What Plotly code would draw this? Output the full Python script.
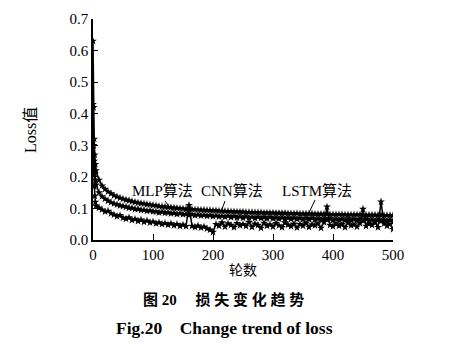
import plotly.graph_objects as go

epochs = [0, 1, 2, 3, 4] + list(range(5, 501, 5))

mlp_loss = [
    0.63, 0.42, 0.32, 0.27, 0.24,
    0.22, 0.19, 0.172, 0.161, 0.153, 0.147, 0.141, 0.137, 0.133, 0.130,
    0.127, 0.125, 0.122, 0.120, 0.118, 0.116, 0.115, 0.113, 0.112, 0.110,
    0.109, 0.107, 0.106, 0.105, 0.104, 0.103, 0.102, 0.101, 0.100, 0.099,
    0.098, 0.098, 0.097, 0.096, 0.096, 0.095, 0.095, 0.094, 0.094, 0.093,
    0.093, 0.092, 0.092, 0.091, 0.091, 0.090, 0.090, 0.089, 0.089, 0.089,
    0.088, 0.088, 0.088, 0.087, 0.087, 0.087, 0.086, 0.086, 0.086, 0.086,
    0.085, 0.085, 0.085, 0.085, 0.084, 0.084, 0.084, 0.084, 0.083, 0.083,
    0.083, 0.083, 0.083, 0.082, 0.082, 0.082, 0.082, 0.082, 0.081, 0.081,
    0.081, 0.081, 0.081, 0.080, 0.080, 0.080, 0.080, 0.080, 0.080, 0.079,
    0.079, 0.079, 0.079, 0.079, 0.079, 0.078, 0.078, 0.078, 0.078, 0.078,
]

cnn_loss = [
    0.43, 0.30, 0.25, 0.21, 0.19,
    0.175, 0.150, 0.138, 0.130, 0.124, 0.119, 0.115, 0.112, 0.109, 0.107,
    0.105, 0.102, 0.101, 0.098, 0.098, 0.095, 0.095, 0.092, 0.093, 0.090,
    0.090, 0.087, 0.089, 0.086, 0.087, 0.084, 0.085, 0.082, 0.084, 0.081,
    0.082, 0.079, 0.081, 0.078, 0.080, 0.077, 0.079, 0.076, 0.078, 0.075,
    0.077, 0.074, 0.076, 0.073, 0.076, 0.072, 0.075, 0.071, 0.074, 0.070,
    0.074, 0.070, 0.073, 0.069, 0.073, 0.069, 0.072, 0.068, 0.072, 0.068,
    0.071, 0.067, 0.071, 0.067, 0.070, 0.066, 0.070, 0.066, 0.069, 0.065,
    0.069, 0.065, 0.069, 0.064, 0.068, 0.064, 0.068, 0.064, 0.068, 0.063,
    0.067, 0.063, 0.067, 0.062, 0.067, 0.062, 0.066, 0.062, 0.066, 0.061,
    0.066, 0.061, 0.065, 0.060, 0.065, 0.060, 0.064, 0.060, 0.064, 0.059,
]

lstm_loss = [
    0.30, 0.22, 0.17, 0.14, 0.12,
    0.108, 0.102, 0.096, 0.090, 0.092, 0.084, 0.080, 0.075, 0.078, 0.070,
    0.067, 0.071, 0.063, 0.066, 0.060, 0.064, 0.057, 0.061, 0.055, 0.058,
    0.052, 0.055, 0.050, 0.053, 0.048, 0.052, 0.046, 0.050, 0.044, 0.048,
    0.043, 0.110, 0.044, 0.041, 0.045, 0.039, 0.042, 0.036, 0.032, 0.025,
    0.050, 0.045, 0.055, 0.042, 0.052, 0.047, 0.040, 0.053, 0.046, 0.050,
    0.044, 0.056, 0.041, 0.051, 0.047, 0.038, 0.054, 0.045, 0.049, 0.042,
    0.053, 0.046, 0.040, 0.055, 0.048, 0.043, 0.051, 0.039, 0.050, 0.045,
    0.054, 0.041, 0.049, 0.046, 0.052, 0.038, 0.056, 0.105, 0.047, 0.043,
    0.052, 0.045, 0.050, 0.040, 0.055, 0.046, 0.049, 0.042, 0.053, 0.098,
    0.044, 0.051, 0.047, 0.056, 0.040, 0.121, 0.052, 0.045, 0.050, 0.034,
]

x_ticks = [0, 100, 200, 300, 400, 500]
y_ticks = [0.0, 0.1, 0.2, 0.3, 0.4, 0.5, 0.6, 0.7]
y_tick_text = ["0.0", "0.1", "0.2", "0.3", "0.4", "0.5", "0.6", "0.7"]

SERIF = "Liberation Serif, Times New Roman, Noto Sans CJK SC, serif"

fig = go.Figure()
for name, vals in [("MLP算法", mlp_loss), ("CNN算法", cnn_loss), ("LSTM算法", lstm_loss)]:
    fig.add_trace(go.Scatter(
        x=epochs, y=vals, mode="lines+markers", name=name,
        line=dict(color="black", width=1.5),
        marker=dict(symbol="star", size=6, color="black"),
        showlegend=False,
    ))

W, H = 453, 351
L, R, T, B = 93, 60, 19, 111
pw, ph = W - L - R, H - T - B

fig.update_layout(
    width=W, height=H,
    margin=dict(l=L, r=R, t=T, b=B),
    paper_bgcolor="white", plot_bgcolor="white",
    font=dict(family=SERIF, size=15, color="black"),
    xaxis=dict(range=[0, 500], tickvals=x_ticks, ticks="inside", ticklen=6,
               tickwidth=1, tickcolor="black", showline=True, linecolor="black",
               linewidth=1.5, showgrid=False, zeroline=False,
               tickfont=dict(family=SERIF, size=15)),
    yaxis=dict(range=[0, 0.7], tickvals=y_ticks, ticktext=y_tick_text, ticks="inside",
               ticklen=5, tickwidth=1, tickcolor="black", showline=True, linecolor="black",
               linewidth=1.5, showgrid=False, zeroline=False,
               tickfont=dict(family=SERIF, size=15)),
)

ann = [
    dict(text="Loss值", x=30, y=130, textangle=-90, size=16),
    dict(text="轮数", x=243, y=270, size=14),
    dict(text="<b>图 20　 损 失 变 化 趋 势</b>", x=223, y=299, size=15),
    dict(text="<b>Fig.20　Change trend of loss</b>", x=224, y=328, size=17.5),
]
for a in ann:
    fig.add_annotation(text=a["text"], x=(a["x"] - L) / pw, y=(H - B - a["y"]) / ph,
                       xref="paper", yref="paper", xanchor="center", yanchor="middle",
                       showarrow=False, textangle=a.get("textangle", 0),
                       font=dict(family=SERIF, size=a["size"], color="black"))

labels = [("MLP算法", 162, 165, 201, 172, 210),
          ("CNN算法", 232, 225, 201, 221, 212),
          ("LSTM算法", 317, 315, 200, 307, 217)]
for text, cx, x0, y0, x1, y1 in labels:
    fig.add_annotation(text=text, x=(cx - L) / pw * 500, y=(H - B - 190) / ph * 0.7,
                       xref="x", yref="y", showarrow=False,
                       font=dict(family=SERIF, size=15, color="black"))
    fig.add_shape(type="line", xref="x", yref="y",
                  x0=(x0 - L) / pw * 500, y0=(H - B - y0) / ph * 0.7,
                  x1=(x1 - L) / pw * 500, y1=(H - B - y1) / ph * 0.7,
                  line=dict(color="black", width=1))

fig.write_html("out.html")
